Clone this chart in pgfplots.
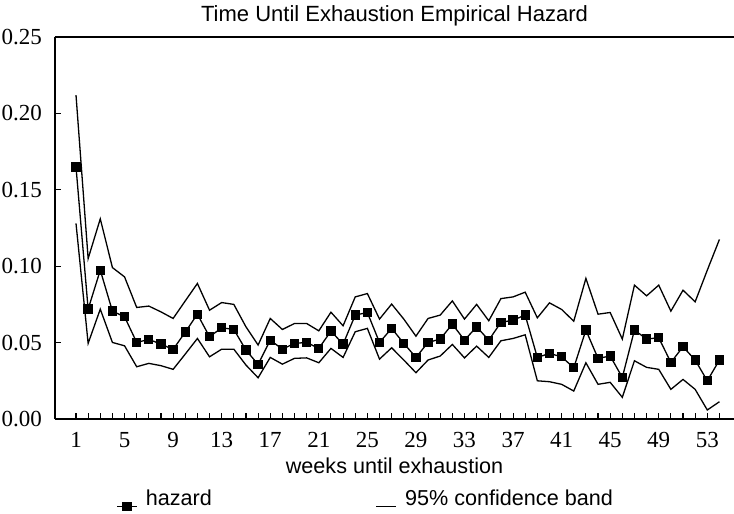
\documentclass[border=0pt]{standalone}
\usepackage{fontspec}
\setmainfont{Liberation Sans}
\newfontfamily\timesfont{Liberation Serif}
\usepackage{pgfplots}
\pgfplotsset{compat=1.18}

% hazard and 95% band, week = x
\pgfplotstableread{
w haz up lo
1 0.165 0.212 0.128
2 0.0719 0.105 0.0495
3 0.0974 0.131 0.0719
4 0.0706 0.0991 0.0501
5 0.0669 0.093 0.0479
6 0.0501 0.073 0.0342
7 0.0521 0.0739 0.0364
8 0.049 0.0701 0.0349
9 0.0455 0.0658 0.0325
10 0.0569 0.0773 0.0425
11 0.0686 0.0887 0.0527
12 0.0538 0.0712 0.0407
13 0.0597 0.0762 0.0457
14 0.0586 0.075 0.0457
15 0.0451 0.0603 0.0353
16 0.0357 0.0484 0.027
17 0.0516 0.0658 0.0403
18 0.0457 0.0586 0.0359
19 0.0495 0.0625 0.0397
20 0.0501 0.0625 0.040
21 0.0462 0.0577 0.0368
22 0.0575 0.0699 0.0462
23 0.049 0.061 0.0403
24 0.068 0.0799 0.0571
25 0.0697 0.0821 0.0593
26 0.0501 0.0654 0.0392
27 0.0593 0.0752 0.0466
28 0.0495 0.0654 0.0386
29 0.0403 0.0542 0.0303
30 0.0501 0.0658 0.0386
31 0.0523 0.068 0.0412
32 0.0621 0.0773 0.0488
33 0.0516 0.0654 0.040
34 0.0603 0.075 0.0477
35 0.0516 0.0643 0.0403
36 0.0632 0.0788 0.0512
37 0.0647 0.0799 0.0527
38 0.068 0.083 0.0551
39 0.0403 0.0662 0.025
40 0.0429 0.076 0.0244
41 0.0407 0.0717 0.0227
42 0.0335 0.064 0.0183
43 0.0582 0.092 0.0368
44 0.0397 0.0686 0.0227
45 0.0412 0.0697 0.024
46 0.0272 0.0523 0.0142
47 0.0582 0.0876 0.0381
48 0.0523 0.0806 0.0338
49 0.0532 0.0876 0.0325
50 0.037 0.0706 0.0194
51 0.0473 0.0843 0.0259
52 0.0386 0.0767 0.0194
53 0.025 0.0974 0.0059
54 0.0386 0.1175 0.0113
}\hazdata

\begin{document}
\begin{tikzpicture}
\useasboundingbox (-27.5pt,-47.5pt) rectangle (339.5pt,209.5pt);
\begin{axis}[
  scale only axis,
  width=339.5pt, height=191pt,
  xmin=-0.73, xmax=55.2,
  ymin=0, ymax=0.25,
  axis x line=box, axis y line=left,
  axis line style={-, line width=0.75pt},
  xtick pos=bottom, ytick pos=left,
  tick align=inside,
  xtick={1,5,...,53},
  minor xtick={1,...,54},
  ytick={0,0.05,...,0.25},
  major tick length=2.8pt, minor tick length=2.8pt,
  every tick/.style={black, line width=0.55pt},
  scaled y ticks=false,
  /pgf/number format/assume math mode=true,
  tick label style={font=\timesfont\fontsize{11.5}{13}\selectfont},
  xticklabel style={yshift=-3pt},
  yticklabel style={xshift=-3pt, /pgf/number format/.cd, fixed, fixed zerofill, precision=2},
  title={Time Until Exhaustion Empirical Hazard},
  title style={font=\fontsize{11}{13}\selectfont, at={(axis description cs:0.5,1)}, anchor=center, yshift=4.5pt},
  xlabel={weeks until exhaustion},
  xlabel style={font=\fontsize{10.8}{13}\selectfont, at={(axis description cs:0.5,-0.123)}, anchor=center},
  legend style={draw=none, fill=none, font=\fontsize{10.8}{13}\selectfont,
    inner sep=0pt, at={(axis description cs:0.462,-0.21)}, anchor=center,
    legend columns=2, /tikz/every even column/.append style={column sep=78pt},
    nodes={inner xsep=4pt, inner ysep=1pt}},
  legend image code/.code={\draw[mark repeat=2,mark phase=2,#1,yshift=-3.5pt] plot coordinates {(0pt,0pt) (5pt,0pt) (10pt,0pt)};},
  clip=false,
]
\addplot[black, line width=0.65pt, mark=square*, mark size=2pt] table[x=w,y=haz] {\hazdata};
\addlegendentry{hazard}
\addplot[black, line width=0.65pt] table[x=w,y=up] {\hazdata};
\addlegendentry{95\% confidence band}
\addplot[black, line width=0.65pt, forget plot] table[x=w,y=lo] {\hazdata};
\end{axis}
\end{tikzpicture}
\end{document}
